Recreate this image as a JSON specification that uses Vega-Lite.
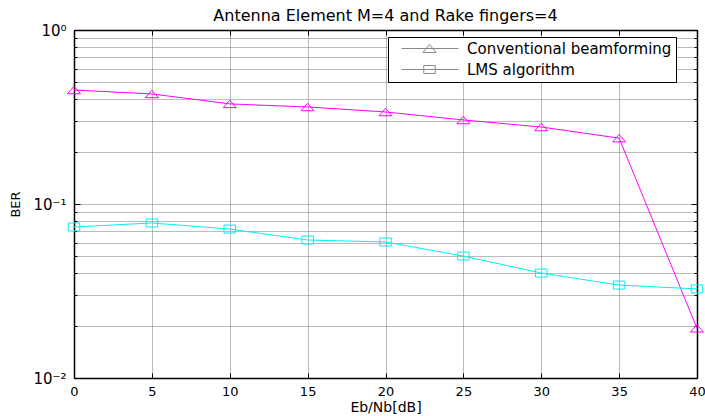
{
  "$schema": "https://vega.github.io/schema/vega-lite/v6.json",
  "width": 623,
  "height": 348,
  "autosize": {"type": "none"},
  "padding": {"left": 74, "top": 30, "right": 8, "bottom": 38},
  "background": "white",
  "config": {"view": {"stroke": "black", "strokeWidth": 1},
    "legend": {"strokeColor": "black", "fillColor": "white", "padding": 4, "cornerRadius": 0, "labelFont": "DejaVu Sans", "labelFontSize": 15, "labelColor": "black", "labelLimit": 400}},
  "title": {"text": "Antenna Element M=4 and Rake fingers=4", "font": "DejaVu Sans", "fontSize": 16, "fontWeight": "normal", "color": "black", "anchor": "middle", "baseline": "alphabetic", "offset": -14},
  "data": {"values": [
    {"x": 0, "ber": 0.452, "series": "Conventional beamforming"},
    {"x": 5, "ber": 0.429, "series": "Conventional beamforming"},
    {"x": 10, "ber": 0.376, "series": "Conventional beamforming"},
    {"x": 15, "ber": 0.361, "series": "Conventional beamforming"},
    {"x": 20, "ber": 0.338, "series": "Conventional beamforming"},
    {"x": 25, "ber": 0.304, "series": "Conventional beamforming"},
    {"x": 30, "ber": 0.277, "series": "Conventional beamforming"},
    {"x": 35, "ber": 0.239, "series": "Conventional beamforming"},
    {"x": 40, "ber": 0.0193, "series": "Conventional beamforming"},
    {"x": 0, "ber": 0.0738, "series": "LMS algorithm"},
    {"x": 5, "ber": 0.0778, "series": "LMS algorithm"},
    {"x": 10, "ber": 0.0718, "series": "LMS algorithm"},
    {"x": 15, "ber": 0.0621, "series": "LMS algorithm"},
    {"x": 20, "ber": 0.0605, "series": "LMS algorithm"},
    {"x": 25, "ber": 0.0502, "series": "LMS algorithm"},
    {"x": 30, "ber": 0.0401, "series": "LMS algorithm"},
    {"x": 35, "ber": 0.0342, "series": "LMS algorithm"},
    {"x": 40, "ber": 0.0325, "series": "LMS algorithm"}
  ]},
  "resolve": {"axis": {"x": "independent", "y": "independent"}, "scale": {"shape": "independent"}},
  "layer": [
    {
      "mark": {"type": "line", "strokeWidth": 1, "clip": false},
      "encoding": {
        "x": {"field": "x", "type": "quantitative", "scale": {"domain": [0, 40], "nice": false, "zero": false},
          "axis": {"orient": "bottom", "values": [0, 5, 10, 15, 20, 25, 30, 35, 40], "title": "Eb/Nb[dB]",
            "titleFont": "DejaVu Sans", "titleFontSize": 14, "titleFontWeight": "normal", "titleColor": "black", "titlePadding": 2,
            "labelFont": "DejaVu Sans", "labelFontSize": 13, "labelColor": "black", "labelPadding": 12, "labelFlush": false,
            "tickSize": -5, "tickColor": "black", "domainColor": "black", "domainWidth": 1.5,
            "grid": true, "gridDash": [1, 1], "gridColor": "#777777", "gridWidth": 1}},
        "y": {"field": "ber", "type": "quantitative", "scale": {"type": "log", "domain": [0.01, 1], "nice": false},
          "axis": {"orient": "left", "values": [0.01, 0.02, 0.03, 0.04, 0.05, 0.06, 0.07, 0.08, 0.09, 0.1, 0.2, 0.3, 0.4, 0.5, 0.6, 0.7, 0.8, 0.9, 1],
            "labelExpr": "datum.value === 1 ? '10⁰' : datum.value === 0.1 ? '10⁻¹' : datum.value === 0.01 ? '10⁻²' : ''",
            "title": "BER", "titleFont": "DejaVu Sans", "titleFontSize": 13, "titleFontWeight": "normal", "titleColor": "black", "titlePadding": 10,
            "labelFont": "DejaVu Sans", "labelFontSize": 15, "labelColor": "black", "labelPadding": 14, "labelFlush": false,
            "tickSize": {"condition": {"test": "datum.value === 1 || datum.value === 0.1 || datum.value === 0.01", "value": -6}, "value": -3},
            "tickColor": "black", "domainColor": "black", "domainWidth": 1.5,
            "grid": true, "gridDash": [1, 1], "gridColor": "#777777", "gridWidth": 1}},
        "stroke": {"field": "series", "type": "nominal", "scale": {"domain": ["Conventional beamforming", "LMS algorithm"], "range": ["#ff00ff", "#00f0f0"]}, "legend": null},
        "detail": {"field": "series"}
      }
    },
    {
      "mark": {"type": "point", "filled": false, "strokeWidth": 1, "size": 100, "opacity": 1, "clip": false},
      "encoding": {
        "x": {"field": "x", "type": "quantitative",
          "axis": {"orient": "top", "values": [0, 5, 10, 15, 20, 25, 30, 35, 40], "labels": false, "title": null, "grid": false,
            "tickSize": -5, "tickColor": "black", "domainColor": "black", "domainWidth": 1.5}},
        "y": {"field": "ber", "type": "quantitative",
          "axis": {"orient": "right", "values": [0.01, 0.02, 0.03, 0.04, 0.05, 0.06, 0.07, 0.08, 0.09, 0.1, 0.2, 0.3, 0.4, 0.5, 0.6, 0.7, 0.8, 0.9, 1], "labels": false, "title": null, "grid": false,
            "tickSize": {"condition": {"test": "datum.value === 1 || datum.value === 0.1 || datum.value === 0.01", "value": -6}, "value": -3},
            "tickColor": "black", "domainColor": "black", "domainWidth": 1.5}},
        "color": {"field": "series", "type": "nominal", "scale": {"domain": ["Conventional beamforming", "LMS algorithm"], "range": ["#ff00ff", "#00f0f0"]}, "legend": null},
        "shape": {"field": "series", "type": "nominal", "scale": {"domain": ["Conventional beamforming", "LMS algorithm"], "range": ["M-1.3,0.75L0,-0.75L1.3,0.75Z", "M-1.15,-0.8H1.15V0.8H-1.15Z"]}, "legend": null}
      }
    },
    {
      "transform": [{"filter": "false"}],
      "mark": {"type": "point", "filled": false, "strokeWidth": 1, "size": 100, "opacity": 1},
      "encoding": {
        "x": {"field": "x", "type": "quantitative", "axis": null},
        "y": {"field": "ber", "type": "quantitative", "axis": null},
        "color": {"field": "series", "type": "nominal", "scale": {"domain": ["Conventional beamforming", "LMS algorithm"], "range": ["#ff00ff", "#00f0f0"]},
          "legend": {"orient": "none", "legendX": 314, "legendY": 7, "title": null,
            "symbolSize": 100, "symbolOffset": 7, "labelOffset": 53, "symbolStrokeWidth": 1, "rowPadding": 5}},
        "shape": {"field": "series", "type": "nominal", "scale": {"domain": ["Conventional beamforming", "LMS algorithm"], "range": ["M-1,0H10.4M3.3,0.8L4.6,-0.8L5.9,0.8Z", "M-1,0H10.4M3.45,-0.8H5.75V0.8H3.45Z"]},
          "legend": {"orient": "none", "legendX": 314, "legendY": 7, "title": null,
            "symbolSize": 100, "symbolOffset": 7, "labelOffset": 53, "symbolStrokeWidth": 1, "rowPadding": 5,
            "encode": {"symbols": {"stroke": {"signal": "datum.value === 'LMS algorithm' ? '#00f0f0' : '#ff00ff'"}}}}}
      }
    }
  ]
}
